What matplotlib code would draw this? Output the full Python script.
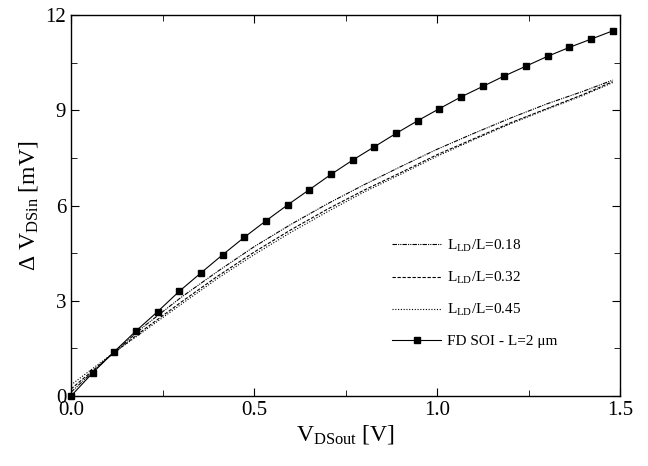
import numpy as np
import matplotlib
matplotlib.use("Agg")
import matplotlib.pyplot as plt
from matplotlib.ticker import MultipleLocator

plt.rcParams['font.family'] = ['Liberation Serif', 'DejaVu Serif']
plt.rcParams['mathtext.fontset'] = 'custom'
plt.rcParams['mathtext.rm'] = 'Liberation Serif'
plt.rcParams['mathtext.it'] = 'Liberation Serif:italic'
plt.rcParams['mathtext.bf'] = 'Liberation Serif:bold'

# FD SOI reference curve (square markers)
x_soi = np.arange(26) * 0.0592
y_soi = [0.0, 0.73, 1.40, 2.05, 2.66, 3.30, 3.88, 4.45, 5.00, 5.52, 6.02,
         6.50, 6.98, 7.43, 7.85, 8.27, 8.67, 9.05, 9.42, 9.75, 10.08,
         10.39, 10.70, 10.98, 11.24, 11.50]

# LDD curves
x_ld = [0, 0.1, 0.2, 0.3, 0.4, 0.5, 0.6, 0.7, 0.8, 0.9, 1.0, 1.1, 1.2, 1.3, 1.4, 1.48]
y_018 = [0.12, 1.20, 2.20, 3.10, 3.92, 4.70, 5.40, 6.05, 6.65, 7.22, 7.77, 8.27, 8.75, 9.20, 9.60, 9.95]
y_032 = [0.22, 1.20, 2.10, 2.95, 3.77, 4.53, 5.23, 5.88, 6.48, 7.03, 7.60, 8.10, 8.60, 9.05, 9.50, 9.90]
y_045 = [0.35, 1.22, 2.05, 2.88, 3.70, 4.45, 5.15, 5.80, 6.42, 6.98, 7.55, 8.07, 8.57, 9.03, 9.47, 9.87]

fig = plt.figure(figsize=(6.48, 4.66), dpi=100)
ax = fig.add_axes([0.1096, 0.1502, 0.8472, 0.8176])

ax.plot(x_ld, y_018, color='black', lw=0.8, ls=(0, (4, 1, 1, 1, 1, 1)), label=r'L$_{\mathrm{LD}}$/L=0.18')
ax.plot(x_ld, y_032, color='black', lw=0.8, ls=(0, (3, 1.5)), label=r'L$_{\mathrm{LD}}$/L=0.32')
ax.plot(x_ld, y_045, color='black', lw=0.8, ls=(0, (1, 1.5)), label=r'L$_{\mathrm{LD}}$/L=0.45')
ax.plot(x_soi, y_soi, color='black', lw=0.8, marker='s', ms=4, clip_on=False,
        label='FD SOI - L=2 \u03bcm', zorder=5)

ax.set_xlim(0, 1.5)
ax.set_ylim(0, 12)
ax.xaxis.set_major_locator(MultipleLocator(0.5))
ax.xaxis.set_minor_locator(MultipleLocator(0.25))
ax.yaxis.set_major_locator(MultipleLocator(3))
ax.yaxis.set_minor_locator(MultipleLocator(1.5))
ax.tick_params(which='both', direction='in', top=True, right=True, labelsize=15)
ax.tick_params(which='major', length=6)
ax.tick_params(which='minor', length=4)
ax.xaxis.set_major_formatter(plt.FuncFormatter(lambda v, p: f'{v:.1f}'))
ax.yaxis.set_major_formatter(plt.FuncFormatter(lambda v, p: f'{v:.0f}'))
for s in ax.spines.values():
    s.set_linewidth(1.0)

ax.set_xlabel(r'V$_{\mathrm{DSout}}$ [V]', fontsize=17, labelpad=2)
ax.set_ylabel(r'$\Delta$ V$_{\mathrm{DSin}}$ [mV]', fontsize=17, labelpad=4)

ax.legend(loc='lower left', bbox_to_anchor=(0.56, 0.09), frameon=False, fontsize=11,
          labelspacing=1.05, handlelength=3.2, handletextpad=0.4)

fig.savefig('out.png', dpi=100)
